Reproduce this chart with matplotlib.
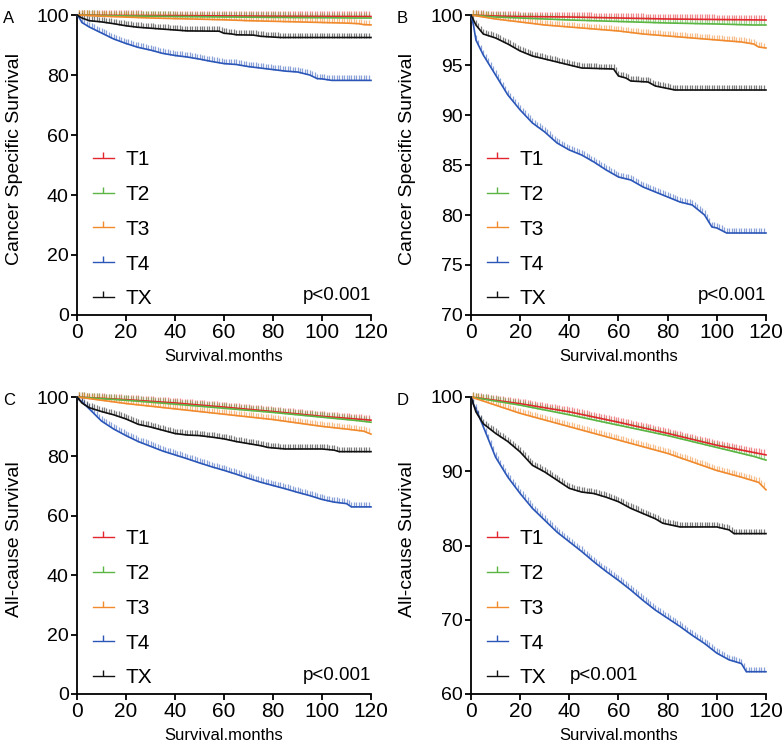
import numpy as np
import matplotlib
matplotlib.use("Agg")
import matplotlib.pyplot as plt
from matplotlib.lines import Line2D

# ---- data (survival %, months) ----
groups = ["T1", "T2", "T3", "T4", "TX"]
colors = ["#e3262e", "#5bb543", "#f08a2c", "#2b56b8", "#111111"]

# cancer specific survival
css_t1_time = [0, 10, 20, 40, 60, 80, 100, 120]
css_t1_surv = [100, 99.9, 99.85, 99.8, 99.7, 99.6, 99.55, 99.5]
css_t2_time = [0, 10, 20, 40, 60, 80, 100, 115, 120]
css_t2_surv = [100, 99.8, 99.7, 99.5, 99.35, 99.2, 99.1, 99.0, 99.0]
css_t3_time = [0, 5, 10, 20, 30, 40, 50, 60, 70, 80, 90, 100, 110, 115, 117, 120]
css_t3_surv = [100, 99.8, 99.6, 99.3, 99.0, 98.8, 98.6, 98.4, 98.1, 97.9, 97.7, 97.5, 97.3, 97.1, 96.8, 96.7]
css_t4_time = [0, 1, 2, 5, 10, 15, 20, 25, 30, 35, 40, 45, 50, 55, 60, 65, 70, 75, 80, 85, 90, 95, 98, 100, 104, 120]
css_t4_surv = [100, 99, 97.5, 96.0, 94.0, 92.0, 90.5, 89.2, 88.3, 87.2, 86.5, 86.0, 85.3, 84.5, 83.8, 83.5,
               82.8, 82.3, 81.8, 81.3, 81.0, 80.0, 78.8, 78.7, 78.2, 78.2]
css_tx_time = [0, 2, 5, 10, 15, 20, 25, 30, 35, 40, 45, 58, 60, 63, 65, 72, 75, 83, 120]
css_tx_surv = [100, 99.0, 98.1, 97.7, 97.1, 96.4, 95.9, 95.6, 95.3, 95.0, 94.7, 94.6, 93.9, 93.7, 93.4, 93.3,
               92.9, 92.5, 92.5]

# all-cause survival
os_t1_time = [0, 20, 40, 60, 80, 100, 120]
os_t1_surv = [100, 99.1, 98.0, 96.6, 95.1, 93.5, 92.2]
os_t2_time = [0, 20, 40, 60, 80, 100, 115, 120]
os_t2_surv = [100, 98.9, 97.6, 96.2, 94.8, 93.2, 92.0, 91.5]
os_t3_time = [0, 20, 40, 60, 80, 100, 110, 117, 120]
os_t3_surv = [100, 97.8, 96.0, 94.2, 92.4, 90.1, 89.2, 88.5, 87.5]
os_t4_time = [0, 1, 2, 5, 10, 15, 20, 25, 30, 35, 40, 45, 50, 55, 60, 65, 70, 75, 80, 85, 90, 95, 100, 105,
              110, 112, 120]
os_t4_surv = [100, 99, 98.4, 96.0, 91.9, 89.2, 87.0, 85.0, 83.4, 81.8, 80.5, 79.2, 77.8, 76.5, 75.3, 74.0,
              72.6, 71.3, 70.2, 69.1, 67.9, 66.8, 65.5, 64.6, 64.1, 63.0, 63.0]
os_tx_time = [0, 2, 5, 10, 15, 20, 25, 30, 35, 40, 45, 50, 55, 60, 65, 70, 75, 78, 85, 100, 105, 107, 120]
os_tx_surv = [100, 98, 96.4, 95.1, 94.0, 92.6, 90.8, 89.9, 88.8, 87.7, 87.2, 87.0, 86.5, 85.9, 85.0, 84.3,
              83.6, 83.0, 82.5, 82.5, 82.1, 81.6, 81.6]

css = [(css_t1_time, css_t1_surv), (css_t2_time, css_t2_surv), (css_t3_time, css_t3_surv),
       (css_t4_time, css_t4_surv), (css_tx_time, css_tx_surv)]
os_ = [(os_t1_time, os_t1_surv), (os_t2_time, os_t2_surv), (os_t3_time, os_t3_surv),
       (os_t4_time, os_t4_surv), (os_tx_time, os_tx_surv)]

censor_months = np.arange(1, 120)

plt.rcParams["font.family"] = ["Liberation Sans", "DejaVu Sans"]

fig = plt.figure(figsize=(7.84, 7.54), dpi=100)
W, H = 784.0, 754.0

# panel boxes in pixels: left, top, right, bottom
panels = [
    dict(box=(77, 15, 371, 315), data=css, ylim=(0, 100), yt=range(0, 101, 20),
         ylab="Cancer Specific Survival", letter="A", pright=True),
    dict(box=(471, 15, 766, 315), data=css, ylim=(70, 100), yt=range(70, 101, 5),
         ylab="Cancer Specific Survival", letter="B", pright=True),
    dict(box=(77, 397, 371, 694), data=os_, ylim=(0, 100), yt=range(0, 101, 20),
         ylab="All-cause Survival", letter="C", pright=True),
    dict(box=(471, 397, 766, 694), data=os_, ylim=(60, 100), yt=range(60, 101, 10),
         ylab="All-cause Survival", letter="D", pright=False),
]

for p in panels:
    l, t, r, b = p["box"]
    ax = fig.add_axes([l / W, 1 - b / H, (r - l) / W, (b - t) / H])
    for (tm, sv), c in zip(p["data"], colors):
        ax.plot(tm, sv, color=c, lw=1.2, clip_on=False, zorder=3)
        # censor marks, sitting on the curve
        cy = np.interp(censor_months, tm, sv)
        ax.plot(censor_months, cy, ls="none", marker=2, ms=3.5, mew=0.9, color=c,
                alpha=0.55, clip_on=False, zorder=2)
    ax.set_xlim(0, 120)
    ax.set_ylim(*p["ylim"])
    ax.set_xticks(range(0, 121, 20))
    ax.set_yticks(list(p["yt"]))
    for s in ["top", "right"]:
        ax.spines[s].set_visible(False)
    for s in ["left", "bottom"]:
        ax.spines[s].set_linewidth(1.3)
    ax.tick_params(direction="out", length=4, width=1.3, pad=2)
    ax.tick_params(axis="y", labelsize=14)
    ax.tick_params(axis="x", labelsize=15)
    ax.set_xlabel("Survival.months", fontsize=12)
    ax.xaxis.set_label_coords(0.5, -0.115)
    ax.set_ylabel(p["ylab"], fontsize=14)
    ax.yaxis.set_label_coords(-0.185, 0.52)

    handles = [Line2D([0], [0], color=c, lw=1.0, marker=2, ms=4, mew=1.0) for c in colors]
    ax.legend(handles, groups, loc="lower left", bbox_to_anchor=(0.054, 0.022), frameon=False,
              numpoints=1, fontsize=15, handlelength=1.0, handletextpad=0.55, labelspacing=0.76,
              borderpad=0, borderaxespad=0)

    if p["pright"]:
        ax.text(1.0, 0.035, "p<0.001", transform=ax.transAxes, ha="right", va="bottom", fontsize=13.5)
    else:
        ax.text(0.335, 0.035, "p<0.001", transform=ax.transAxes, ha="left", va="bottom", fontsize=13.5)

    fig.text((l - 74) / W, 1 - (t - 4) / H, p["letter"], ha="left", va="top", fontsize=12)

fig.savefig("out.png", dpi=100)
